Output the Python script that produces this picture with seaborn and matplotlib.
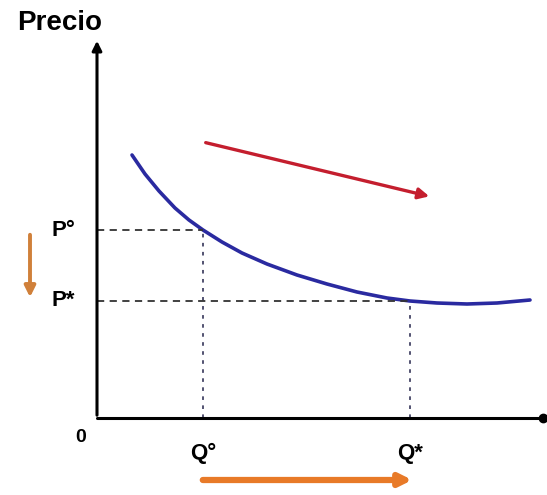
import numpy as np
import pandas as pd
import seaborn as sns
import matplotlib.pyplot as plt

# curva de demanda (cantidad, precio)
cantidad = [35, 48, 62, 78, 92, 106, 125, 145, 170, 200, 230, 260, 290, 313, 340, 370, 400, 433]
precio = [263, 244, 227, 210, 198, 188, 176, 165, 154, 143, 134, 126, 120, 117, 115, 114, 115, 118]

# equilibrios
q_eq = [106, 313]
p_eq = [188, 117]
q_labels = ["Q°", "Q*"]
p_labels = ["P°", "P*"]

sns.set_style("white")
plt.rcParams['font.family'] = ['Liberation Sans', 'DejaVu Sans']
plt.rcParams['text.color'] = 'black'

fig = plt.figure(figsize=(5.47, 4.95), dpi=100)
ax = fig.add_axes([0, 0, 1, 1])
ax.set_xlim(-97, 450)
ax.set_ylim(-77, 418)
ax.axis("off")

df = pd.DataFrame({"Q": cantidad, "P": precio})
sns.lineplot(data=df, x="Q", y="P", ax=ax, color="#2a2aa0", lw=2.6, sort=False)

# lineas punteadas
for q, p in zip(q_eq, p_eq):
    ax.plot([0, q], [p, p], ls=(0, (4, 3)), color="#333333", lw=1.3)
    ax.plot([q, q], [0, p], ls=(0, (2, 3)), color="#444466", lw=1.3)

# ejes
ax.annotate("", xy=(0, 380), xytext=(0, 0),
            arrowprops=dict(arrowstyle="-|>", color="black", lw=2.2, mutation_scale=14))
ax.plot([0, 446], [0, 0], color="black", lw=2.2)
ax.plot([446], [0], "o", color="black", ms=6)

# textos
ax.text(-80, 395, "Precio", fontsize=20, fontweight="bold", va="center", ha="left", color="black")
ax.text(-16, -19, "0", fontsize=14, fontweight="bold", va="center", ha="center", color="black")
for p, lab in zip(p_eq, p_labels):
    ax.text(-22, p, lab, fontsize=16, fontweight="bold", va="center", ha="right", color="black")
for q, lab in zip(q_eq, q_labels):
    ax.text(q, -35, lab, fontsize=16, fontweight="bold", va="center", ha="center", color="black")

# flechas
ax.annotate("", xy=(335, 221), xytext=(106, 276),
            arrowprops=dict(arrowstyle="-|>", color="#c41e2e", lw=2.4, mutation_scale=16))
ax.annotate("", xy=(-67, 118), xytext=(-67, 186),
            arrowprops=dict(arrowstyle="-|>", color="#d0803a", lw=2.8, mutation_scale=16))
ax.annotate("", xy=(318, -62), xytext=(103, -62),
            arrowprops=dict(arrowstyle="-|>", color="#e87a28", lw=4.5, mutation_scale=18))

fig.savefig("out.png", dpi=100)
